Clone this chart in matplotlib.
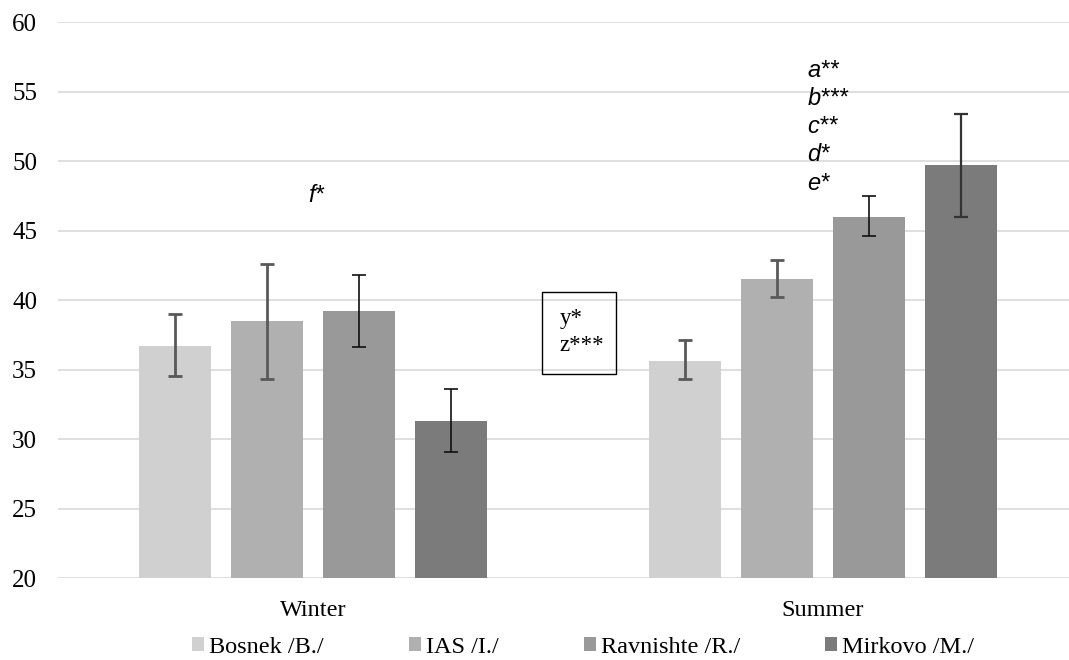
import numpy as np
import matplotlib.pyplot as plt
from matplotlib.patches import Rectangle

# data
seasons = ["Winter", "Summer"]
sites = ["Bosnek /B./", "IAS /I./", "Ravnishte /R./", "Mirkovo /M./"]
# mean values per site: [Winter, Summer]
bosnek = [36.7, 35.6]
ias = [38.5, 41.5]
ravnishte = [39.2, 46.0]
mirkovo = [31.3, 49.7]
# error bar lower / upper ends per site: [Winter, Summer]
bosnek_lo, bosnek_hi = [34.5, 34.3], [39.0, 37.1]
ias_lo, ias_hi = [34.3, 40.2], [42.6, 42.9]
ravnishte_lo, ravnishte_hi = [36.6, 44.6], [41.8, 47.5]
mirkovo_lo, mirkovo_hi = [29.1, 46.0], [33.6, 53.4]

summer_marks = ["a**", "b***", "c**", "d*", "e*"]
winter_marks = ["f*"]
box_marks = ["y*", "z***"]

colors = ["#d0d0d0", "#b0b0b0", "#999999", "#7b7b7b"]
# error bar look, [Winter, Summer] per site
err_style = [
    [("#595959", 2.0), ("#595959", 2.0)],
    [("#595959", 2.0), ("#595959", 2.0)],
    [("#111111", 1.2), ("#111111", 1.2)],
    [("#111111", 1.2), ("#333333", 1.6)],
]

means = [bosnek, ias, ravnishte, mirkovo]
lows = [bosnek_lo, ias_lo, ravnishte_lo, mirkovo_lo]
highs = [bosnek_hi, ias_hi, ravnishte_hi, mirkovo_hi]

serif = "Liberation Serif"
sans = "Liberation Sans"

fig = plt.figure(figsize=(10.69, 6.6), dpi=100)
ax = fig.add_axes([0.0543, 0.1242, 0.954, 0.8424])

x = np.arange(len(seasons))
width = 0.141
step = 0.18
for i, name in enumerate(sites):
    xs = x + (i - 1.5) * step
    ax.bar(xs, means[i], width, color=colors[i], label=name, zorder=2)
    for j in range(len(seasons)):
        c, lw = err_style[i][j]
        m = means[i][j]
        ax.errorbar(xs[j], m, yerr=[[m - lows[i][j]], [highs[i][j] - m]],
                    fmt="none", ecolor=c, elinewidth=lw, capsize=5,
                    capthick=lw, zorder=3)

ax.set_ylim(20, 60)
ax.set_xlim(-0.5, 1.5)
ax.set_yticks(range(20, 61, 5))
ax.set_xticks(x)
ax.set_xticklabels(seasons, family=serif, fontsize=17.5)
for lab in ax.get_yticklabels():
    lab.set_family(serif)
    lab.set_fontsize(18)
ax.tick_params(axis="y", length=0, pad=15)
ax.tick_params(axis="x", length=0, pad=16)
ax.grid(axis="y", color="#d9d9d9", lw=1.2, zorder=0)
for s in ax.spines.values():
    s.set_visible(False)

# significance marks
for k, t in enumerate(summer_marks):
    ax.text(0.97, 56.5 - k * 2.02, t, style="italic", family=sans,
            fontsize=17, va="center", ha="left")
ax.text(-0.01, 47.5, winter_marks[0], style="italic", family=sans,
        fontsize=17, va="center", ha="left")
ax.add_patch(Rectangle((0.449, 34.68), 0.145, 5.9, fill=False, ec="black",
                       lw=1.0, zorder=4))
ax.text(0.484, 38.7, box_marks[0], family=serif, fontsize=16.5,
        va="center", ha="left", zorder=5)
ax.text(0.484, 36.76, box_marks[1], family=serif, fontsize=16.5,
        va="center", ha="left", zorder=5)

ax.legend(loc="upper center", bbox_to_anchor=(0.515, -0.106), ncol=4,
          frameon=False, prop={"family": serif, "size": 17.5},
          handlelength=0.5, handleheight=0.5, handletextpad=0.2,
          columnspacing=3.5, borderpad=0.0, borderaxespad=0.0)

fig.savefig("out.png", dpi=100)
